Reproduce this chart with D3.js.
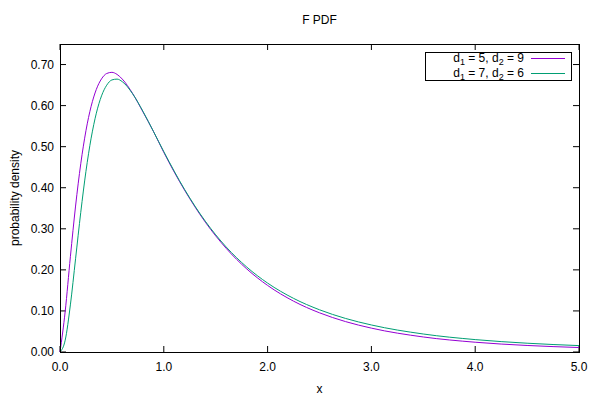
<!DOCTYPE html>
<html><head><meta charset="utf-8">
<script src="https://cdn.jsdelivr.net/npm/d3@7"></script>
<style>body{margin:0;background:#fff}svg{display:block}text{font-family:"Liberation Sans",Arial,sans-serif;fill:#000}</style>
</head><body><svg id="c" width="600" height="400"></svg>
<script>
const xs = [0,0.05,0.1,0.15,0.2,0.25,0.3,0.35,0.4,0.45,0.5,0.55,0.6,0.7,0.8,0.9,1.0,1.2,1.4,1.6,1.8,2.0,2.25,2.5,2.75,3.0,3.5,4.0,4.5,5.0];
const series1 = [0,0.0989,0.2320,0.3554,0.4583,0.5388,0.5983,0.6395,0.6651,0.6782,0.6810,0.6759,0.6646,0.6293,0.5843,0.5373,0.4861,0.3942,0.3162,0.2527,0.2021,0.1621,0.1238,0.0954,0.0741,0.0581,0.0366,0.0238,0.0159,0.0109];
const series2 = [0,0.0287,0.1147,0.2270,0.3400,0.4399,0.5207,0.5815,0.6237,0.6497,0.6625,0.6645,0.6583,0.6286,0.5857,0.5372,0.4879,0.3959,0.3184,0.2560,0.2067,0.1678,0.1306,0.1028,0.0818,0.0658,0.0438,0.0302,0.0214,0.0156];
const seriesNames = ["d1 = 5, d2 = 9","d1 = 7, d2 = 6"];
const legendParts = [["5","9"],["7","6"]];
const colors = ["#9400d3","#009e73"];
const xTicks = [0,1,2,3,4,5];
const yTicks = [0,0.1,0.2,0.3,0.4,0.5,0.6,0.7];

const svg = d3.select("#c");
const L=60,R=579,T=44,B=352;
const x = d3.scaleLinear().domain([0,5]).range([L,R]);
const y = d3.scaleLinear().domain([0,0.75]).range([B,T]);
const tl=6;
const g = svg.append("g");
xTicks.forEach(v=>{
  g.append("line").attr("x1",x(v)).attr("x2",x(v)).attr("y1",B).attr("y2",B-tl).attr("stroke","#000");
  g.append("line").attr("x1",x(v)).attr("x2",x(v)).attr("y1",T).attr("y2",T+tl).attr("stroke","#000");
  g.append("text").attr("x",x(v)).attr("y",B+19).attr("text-anchor","middle").attr("font-size",12).text(d3.format(".1f")(v));
});
yTicks.forEach(v=>{
  g.append("line").attr("x1",L).attr("x2",L+tl).attr("y1",y(v)).attr("y2",y(v)).attr("stroke","#000");
  g.append("line").attr("x1",R).attr("x2",R-tl).attr("y1",y(v)).attr("y2",y(v)).attr("stroke","#000");
  g.append("text").attr("x",L-6).attr("y",y(v)+4).attr("text-anchor","end").attr("font-size",12).text(d3.format(".2f")(v));
});
const line = d3.line().x((d,i)=>x(xs[i])).y(d=>y(d)).curve(d3.curveMonotoneX);
[series1,series2].forEach((s,i)=>{
  svg.append("path").attr("d",line(s)).attr("fill","none").attr("stroke",colors[i]).attr("stroke-width",1);
});
svg.append("rect").attr("x",L+0.5).attr("y",T+0.5).attr("width",R-L).attr("height",B-T).attr("fill","none").attr("stroke","#000");
const lg = svg.append("g");
lg.append("rect").attr("x",425.5).attr("y",52.5).attr("width",146).attr("height",28).attr("fill","#fff").attr("stroke","#000");
legendParts.forEach((p,i)=>{
  const yy = 62 + i*15;
  const t = lg.append("text").attr("x",524).attr("y",yy).attr("text-anchor","end").attr("font-size",12);
  t.append("tspan").text("d");
  t.append("tspan").attr("font-size",9).attr("dy",3).text("1");
  t.append("tspan").attr("dy",-3).text(" = "+p[0]+", d");
  t.append("tspan").attr("font-size",9).attr("dy",3).text("2");
  t.append("tspan").attr("dy",-3).text(" = "+p[1]);
  lg.append("line").attr("x1",531).attr("x2",565).attr("y1",yy-3.5).attr("y2",yy-3.5).attr("stroke",colors[i]);
});
svg.append("text").attr("x",(L+R)/2).attr("y",24).attr("text-anchor","middle").attr("font-size",12).text("F PDF");
svg.append("text").attr("x",(L+R)/2).attr("y",393).attr("text-anchor","middle").attr("font-size",12).text("x");
svg.append("text").attr("transform",`translate(19,${(T+B)/2}) rotate(-90)`).attr("text-anchor","middle").attr("font-size",12).text("probability density");
</script></body></html>
